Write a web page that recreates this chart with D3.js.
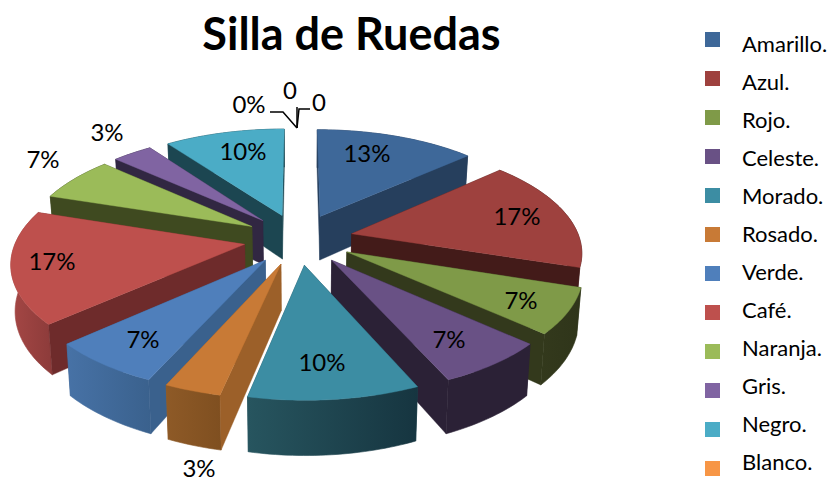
<!DOCTYPE html>
<html><head><meta charset="utf-8">
<script src="https://cdn.jsdelivr.net/npm/d3@7/dist/d3.min.js"></script>
<style>html,body{margin:0;padding:0;background:#fff}svg{display:block}text{font-family:Lato,"Open Sans",sans-serif;fill:#000}</style>
</head><body><svg id="c" width="830" height="482"></svg>
<script>
const chartTitle = "Silla de Ruedas";
const categories = ["Amarillo.","Azul.","Rojo.","Celeste.","Morado.","Rosado.","Verde.","Café.","Naranja.","Gris.","Negro.","Blanco."];
const values = [4,5,2,2,3,1,2,5,2,1,3,0];
const percentLabels = ["13%","17%","7%","7%","10%","3%","7%","17%","7%","3%","10%","0%"];
const extraLabels = ["0","0"];

const topColors = ["#3E6899","#9E413E","#7F9A48","#695185","#3C8DA3","#C87A36","#4F7FBB","#BE504D","#9BBB59","#8064A2","#4BACC6","#F79646"];
const sideColors = ["#263F5D","#431B19","#33391C","#2B2136","#1F4B57","#9C6029","#3A618D","#6E2B2B","#3F4A20","#312742","#1C4651","#9C6029"];
const rimLeft = ["#263F5D","#431B19","#33391C","#2B2136","#27555F","#8E5A27","#4772A6","#A54745","#3F4A20","#312742","#1C4651","#9C6029"];
const rimRight = ["#263F5D","#431B19","#2F351A","#2B2136","#163540","#7F4F20","#3A618D","#8C3B3A","#3F4A20","#312742","#1C4651","#9C6029"];
const labelXY = [[367,154],[517,217],[521,301],[449,340],[322,363],[199,469],[143,340],[52,262],[43,160],[107,133],[243,152],[249,105]];
const extraXY = [[290,91],[319,103]];
const leaderPaths = [[[270,112],[283,112],[297,128]],[[297,128],[299,109],[310,109]],[[297,128],[297,107]]];

// projection parameters of the tilted pie
const cx = 298.5, cy = 239, a = 228, b = 106, k = 0.15, explode = 0.24, depth = 45, converge = 0.985;
function topPt(x, y){ const w = 1 - k*y; return [cx + a*x/w, cy + b*y/w]; }
function botPt(x, y){ const w = 1 - k*y; return [cx + converge*a*x/w, cy + b*y/w + depth/w]; }

const svg = d3.select("#c");
const defs = svg.append("defs");
const line = d3.line();
const pie = d3.pie().sort(null).startAngle(0).endAngle(2*Math.PI).value(d=>d)(values);

const slices = pie.map((p,i)=>({...p,i})).filter(p=>p.value>0).map(p=>{
  const m = (p.startAngle+p.endAngle)/2;
  const ox = explode*Math.sin(m), oy = -explode*Math.cos(m);
  const n = Math.max(2, Math.round((p.endAngle-p.startAngle)/0.02));
  const rim = d3.range(n+1).map(j=>{
    const t = p.startAngle+(p.endAngle-p.startAngle)*j/n;
    return [ox+Math.sin(t), oy-Math.cos(t)];
  });
  return {...p,m,ox,oy,rim,depthKey:oy};
}).sort((u,v)=>u.depthKey-v.depthKey);

const g = svg.append("g");
slices.forEach(s=>{
  const apex=[s.ox,s.oy], first=s.rim[0], last=s.rim[s.rim.length-1];
  const quad=(p,q)=>line([topPt(...p),topPt(...q),botPt(...q),botPt(...p)])+"Z";
  const faces=(p,q,other)=>{ // a radial wall is visible when the slice top lies above that edge on screen
    const A=topPt(...p),B=topPt(...q),C=topPt(...other);
    const yAtC=A[1]+(B[1]-A[1])*(C[0]-A[0])/((B[0]-A[0])||1e-6);
    return C[1]<yAtC;
  };
  const walls=[[apex,first,last],[apex,last,first]].map(([p,q,o])=>({d:quad(p,q),front:faces(p,q,o)}));
  const paint=w=>g.append("path").attr("d",w.d).attr("fill",sideColors[s.i]).attr("stroke",sideColors[s.i]).attr("stroke-width",.4);
  walls.filter(w=>!w.front).forEach(paint);
  const tops=s.rim.map(p=>topPt(...p)), bots=s.rim.map(p=>botPt(...p)).reverse();
  const xs=tops.concat(bots).map(p=>p[0]);
  const gid="rim"+s.i;
  const lg=defs.append("linearGradient").attr("id",gid).attr("gradientUnits","userSpaceOnUse")
    .attr("x1",d3.min(xs)).attr("x2",d3.max(xs)).attr("y1",0).attr("y2",0);
  lg.append("stop").attr("offset",0).attr("stop-color",rimLeft[s.i]);
  lg.append("stop").attr("offset",1).attr("stop-color",rimRight[s.i]);
  g.append("path").attr("d",line(tops.concat(bots))+"Z").attr("fill",`url(#${gid})`).attr("stroke",`url(#${gid})`).attr("stroke-width",.6);
  walls.filter(w=>w.front).forEach(paint);
  g.append("path").attr("d",line([topPt(...apex)].concat(tops))+"Z").attr("fill",topColors[s.i]).attr("stroke",topColors[s.i]).attr("stroke-width",.4);
});

svg.append("g").selectAll("path").data(leaderPaths).join("path")
  .attr("d",d=>line(d)).attr("fill","none").attr("stroke","#000").attr("stroke-width",1.5);

svg.append("g").selectAll("text").data(percentLabels.concat(extraLabels)).join("text")
  .attr("x",(d,i)=>labelXY.concat(extraXY)[i][0]).attr("y",(d,i)=>labelXY.concat(extraXY)[i][1]+8)
  .attr("text-anchor","middle").attr("font-size",24).text(d=>d);

svg.append("text").attr("x",351.5).attr("y",50).attr("text-anchor","middle")
  .attr("font-size",45).attr("font-weight",700).text(chartTitle);

const swatchY = d3.scaleLinear().domain([0,11]).range([32,461]);
const textY = d3.scaleLinear().domain([0,11]).range([52,470]);
const legend = svg.append("g");
legend.selectAll("rect").data(categories).join("rect")
  .attr("x",705).attr("y",(d,i)=>swatchY(i)).attr("width",15).attr("height",15).attr("fill",(d,i)=>topColors[i]);
legend.selectAll("text").data(categories).join("text")
  .attr("x",742).attr("y",(d,i)=>textY(i)).attr("font-size",22).text(d=>d);
</script></body></html>
